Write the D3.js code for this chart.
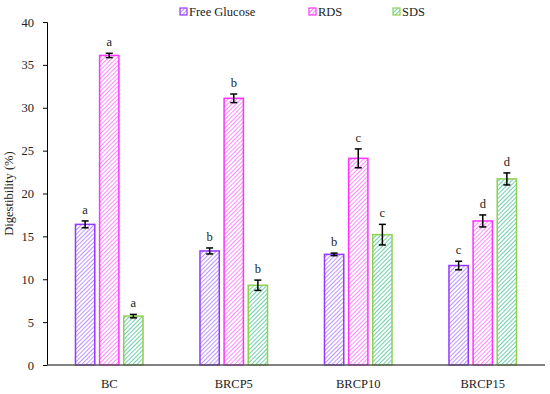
<!DOCTYPE html>
<html>
<head>
<meta charset="utf-8">
<script src="https://cdn.jsdelivr.net/npm/d3@7"></script>
<style>
  body { margin: 0; background: #fff; }
  svg text { font-family: "Liberation Serif", "DejaVu Serif", serif; }
</style>
</head>
<body>
<svg id="chart"></svg>
<script>
const samples = ['BC', 'BRCP5', 'BRCP10', 'BRCP15'];
const seriesNames = ['Free Glucose', 'RDS', 'SDS'];

const freeGlucose = [16.4, 13.3, 12.9, 11.6];
const rds = [36.1, 31.1, 24.1, 16.8];
const sds = [5.7, 9.3, 15.2, 21.7];

const freeGlucoseErr = [0.4, 0.35, 0.15, 0.5];
const rdsErr = [0.25, 0.5, 1.1, 0.7];
const sdsErr = [0.2, 0.6, 1.2, 0.7];

const freeGlucoseLetters = ['a', 'b', 'b', 'c'];
const rdsLetters = ['a', 'b', 'c', 'd'];
const sdsLetters = ['a', 'b', 'c', 'd'];

const yTicks = [0, 5, 10, 15, 20, 25, 30, 35, 40];

const width = 550, height = 394;
const margin = { top: 22, right: 5, bottom: 29, left: 47 };

const svg = d3.select('#chart').attr('width', width).attr('height', height);

const series = [
  { name: seriesNames[0], values: freeGlucose, err: freeGlucoseErr, letters: freeGlucoseLetters, stroke: '#9437ff', hatch: '#9b59ff' },
  { name: seriesNames[1], values: rds, err: rdsErr, letters: rdsLetters, stroke: '#ff33ff', hatch: '#ff4dff' },
  { name: seriesNames[2], values: sds, err: sdsErr, letters: sdsLetters, stroke: '#8fd14f', hatch: '#1fb87a' }
];

// hatch patterns
const defs = svg.append('defs');
series.forEach((s, i) => {
  const p = defs.append('pattern')
    .attr('id', 'hatch' + i)
    .attr('patternUnits', 'userSpaceOnUse')
    .attr('width', 3).attr('height', 3)
    .attr('patternTransform', 'rotate(45)');
  p.append('rect').attr('width', 3).attr('height', 3).attr('fill', '#fff');
  p.append('line')
    .attr('x1', 0).attr('y1', 0).attr('x2', 0).attr('y2', 3)
    .attr('stroke', s.hatch).attr('stroke-width', 1.3);
});

const x0 = d3.scaleBand()
  .domain(samples)
  .range([margin.left, width - margin.right])
  .paddingInner(0.38).paddingOuter(0.19);

const x1 = d3.scaleBand()
  .domain(seriesNames)
  .range([0, x0.bandwidth()])
  .padding(0.2);

const y = d3.scaleLinear()
  .domain([0, 40])
  .range([height - margin.bottom, margin.top]);

// y axis
const yAxis = svg.append('g')
  .attr('transform', `translate(${margin.left},0)`)
  .call(d3.axisLeft(y).tickValues(yTicks).tickSize(4).tickPadding(9));
yAxis.select('.domain').attr('stroke', '#000');
yAxis.selectAll('.tick line').attr('stroke', '#000');
yAxis.selectAll('text').attr('font-size', 12.5).attr('fill', '#222');

svg.append('text')
  .attr('transform', `translate(13,${(margin.top + height - margin.bottom) / 2}) rotate(-90)`)
  .attr('text-anchor', 'middle')
  .attr('font-size', 12.5)
  .attr('fill', '#222')
  .text('Digestibility (%)');

// bars
const groups = svg.append('g').selectAll('g')
  .data(series)
  .join('g');

groups.each(function (s, si) {
  const g = d3.select(this);
  const rows = samples.map((c, i) => ({ c, v: s.values[i], e: s.err[i], l: s.letters[i] }));

  g.selectAll('rect')
    .data(rows)
    .join('rect')
    .attr('x', d => x0(d.c) + x1(s.name))
    .attr('y', d => y(d.v))
    .attr('width', x1.bandwidth())
    .attr('height', d => y(0) - y(d.v))
    .attr('fill', `url(#hatch${si})`)
    .attr('stroke', s.stroke)
    .attr('stroke-width', 1.5);

  const cx = d => x0(d.c) + x1(s.name) + x1.bandwidth() / 2;

  g.selectAll('line.err')
    .data(rows)
    .join('line')
    .attr('class', 'err')
    .attr('x1', cx).attr('x2', cx)
    .attr('y1', d => y(d.v - d.e)).attr('y2', d => y(d.v + d.e))
    .attr('stroke', '#000').attr('stroke-width', 1.5);

  ['lo', 'hi'].forEach(end => {
    const yv = d => y(end === 'lo' ? d.v - d.e : d.v + d.e);
    g.selectAll('line.cap' + end)
      .data(rows)
      .join('line')
      .attr('class', 'cap' + end)
      .attr('x1', d => cx(d) - 3.5).attr('x2', d => cx(d) + 3.5)
      .attr('y1', yv).attr('y2', yv)
      .attr('stroke', '#000').attr('stroke-width', 1.5);
  });

  g.selectAll('text')
    .data(rows)
    .join('text')
    .attr('x', cx)
    .attr('y', d => y(d.v + d.e) - 7)
    .attr('text-anchor', 'middle')
    .attr('font-size', 12.5)
    .attr('fill', '#222')
    .text(d => d.l);
});

// x axis
const xAxis = svg.append('g')
  .attr('transform', `translate(0,${y(0)})`)
  .call(d3.axisBottom(x0).tickSize(0).tickPadding(14));
xAxis.select('.domain').attr('stroke', '#595959').attr('stroke-width', 1.5)
  .attr('d', `M${margin.left},0H${width - margin.right}`);
xAxis.selectAll('text').attr('font-size', 12.5).attr('fill', '#222');

// legend
const legendX = [180, 309, 393];
const legend = svg.append('g').selectAll('g')
  .data(series)
  .join('g')
  .attr('transform', (d, i) => `translate(${legendX[i]},8)`);
legend.append('rect')
  .attr('width', 7).attr('height', 7)
  .attr('fill', (d, i) => `url(#hatch${i})`)
  .attr('stroke', d => d.stroke).attr('stroke-width', 1.2);
legend.append('text')
  .attr('x', 9).attr('y', 7.5)
  .attr('font-size', 12.5)
  .attr('fill', '#222')
  .text(d => d.name);
</script>
</body>
</html>
